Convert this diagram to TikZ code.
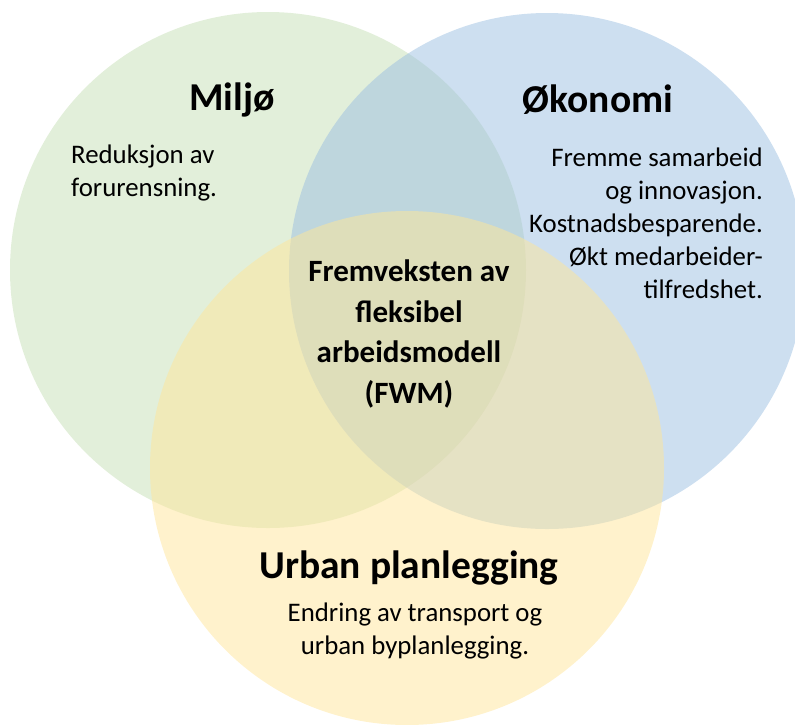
\documentclass[tikz,border=0pt]{standalone}
\usepackage{fontspec}
\setmainfont{Carlito}
\definecolor{cgreen}{RGB}{197,223,181}
\definecolor{cblue}{RGB}{155,191,225}
\definecolor{cyellow}{RGB}{255,229,153}
\begin{document}
\begin{tikzpicture}[x=1pt,y=-1pt,
  venn/.style={fill opacity=0.5, draw=none},
  head/.style={font=\fontsize{39.5}{44}\selectfont\bfseries, inner sep=0pt},
  body/.style={font=\fontsize{26.8}{33}\selectfont, inner sep=0pt},
  core/.style={font=\fontsize{31}{40.5}\selectfont\bfseries, inner sep=0pt, align=center}]
\useasboundingbox (0,0) rectangle (795,724);
\fill[cgreen, venn] (268,270) circle (258);
\fill[cblue, venn] (547,271) circle (258);
\fill[cyellow, venn] (407,468) circle (257);
\node[head] (miljo) at (232,100) {Miljø};
\node[head] (okonomi) at (598,100) {Økonomi};
\node[head] (urban) at (409,568) {Urban planlegging};
\node[body, align=left, anchor=west] (mtext) at (71,173) {Reduksjon av\\forurensning.};
\node[body, align=right, anchor=east] (otext) at (763,223) {Fremme samarbeid\\og innovasjon.\\Kostnadsbesparende.\\Økt medarbeider-\\tilfredshet.};
\node[body, align=center] (utext) at (415,631) {Endring av transport og\\urban byplanlegging.};
\node[core] (fwm) at (409,334) {Fremveksten av\\fleksibel\\arbeidsmodell\\(FWM)};
\end{tikzpicture}
\end{document}
